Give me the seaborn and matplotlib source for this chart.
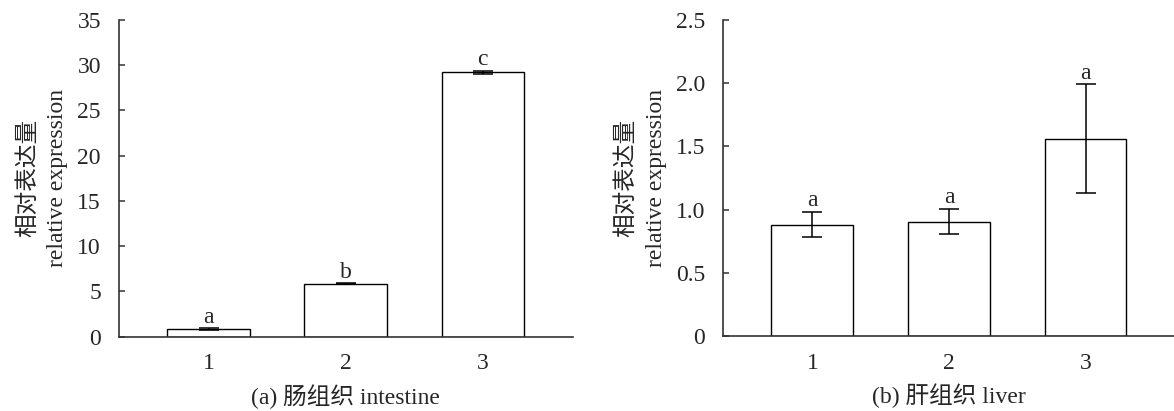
import numpy as np
import pandas as pd
import matplotlib
matplotlib.use("Agg")
import matplotlib.pyplot as plt
import seaborn as sns
from matplotlib.ticker import FuncFormatter

groups = ["1", "2", "3"]
intestine_mean = [0.82, 5.86, 29.2]
intestine_err = [0.10, 0.05, 0.15]
intestine_letters = ["a", "b", "c"]
liver_mean = [0.88, 0.905, 1.56]
liver_err = [0.10, 0.10, 0.43]
liver_letters = ["a", "a", "a"]
intestine_yticks = [0, 5, 10, 15, 20, 25, 30, 35]
liver_yticks = [0, 0.5, 1.0, 1.5, 2.0, 2.5]
ylabel_text = "相对表达量\nrelative expression"
xlabel_a = "(a) 肠组织 intestine"
xlabel_b = "(b) 肝组织 liver"

sns.set_theme(style="ticks")
plt.rcParams["font.family"] = ["Liberation Serif", "Noto Sans CJK SC"]

fig = plt.figure(figsize=(11.74, 4.11), dpi=100)
ax1 = fig.add_axes([0.1014, 0.1808, 0.3865, 0.7706])
ax2 = fig.add_axes([0.6161, 0.1825, 0.3839, 0.7689])

FS = 17

def draw(ax, means, errs, letters, yticks, ymax, xlabel, xlim, fmt, labx):
    df = pd.DataFrame({"group": groups, "value": means})
    sns.barplot(data=df, x="group", y="value", ax=ax, color="white",
                edgecolor="black", linewidth=1.0, width=0.6, errorbar=None)
    xs = np.arange(len(groups))
    ax.errorbar(xs, means, yerr=errs, fmt="none", ecolor="black",
                elinewidth=1.1, capsize=7, capthick=1.1)
    for x, m, e, l in zip(xs, means, errs, letters):
        ax.annotate(l, (x, m + e), xytext=(0, 0.5), textcoords="offset points",
                    ha="center", va="bottom", fontsize=FS)
    ax.set_xlim(*xlim)
    ax.set_ylim(0, ymax)
    ax.set_yticks(yticks)
    ax.yaxis.set_major_formatter(FuncFormatter(fmt))
    ax.tick_params(axis="y", direction="in", length=4, width=1.1,
                   labelsize=FS, pad=13, color="#333333")
    ax.tick_params(axis="x", length=0, labelsize=FS, pad=12)
    for s in ["top", "right"]:
        ax.spines[s].set_visible(False)
    for s in ["left", "bottom"]:
        ax.spines[s].set_color("#333333")
        ax.spines[s].set_linewidth(1.2)
    ax.set_xlabel(xlabel, fontsize=FS, labelpad=7)
    ax.set_ylabel(ylabel_text, fontsize=FS, linespacing=1.5)
    ax.yaxis.set_label_coords(labx, 0.5)

draw(ax1, intestine_mean, intestine_err, intestine_letters, intestine_yticks,
     35, xlabel_a, (-0.653, 2.658), lambda v, p: f"{v:.0f}", -0.112)
draw(ax2, liver_mean, liver_err, liver_letters, liver_yticks,
     2.5, xlabel_b, (-0.653, 2.648), lambda v, p: "0" if v == 0 else f"{v:.1f}", -0.126)

fig.savefig("out.png", dpi=100)
